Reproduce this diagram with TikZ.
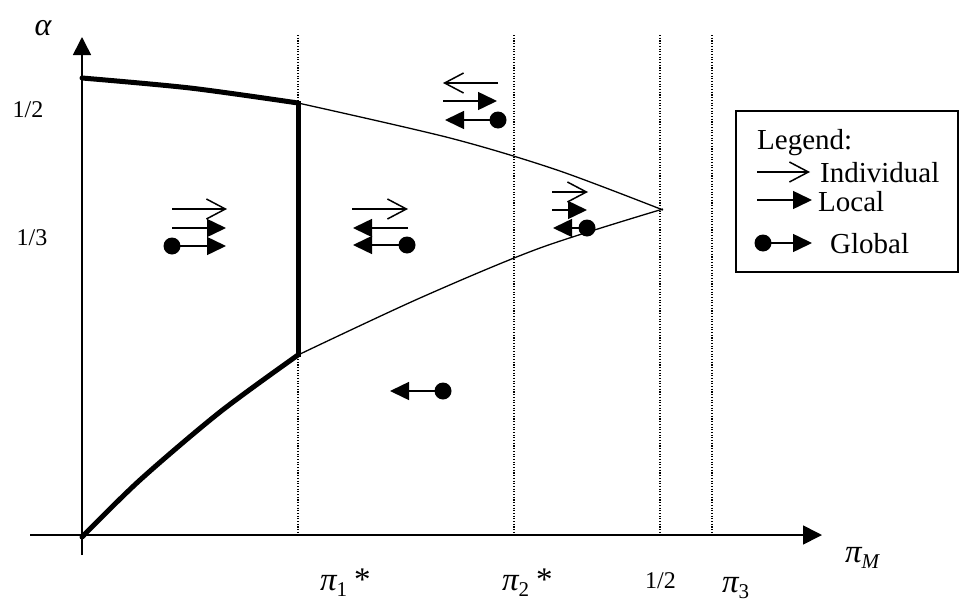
\documentclass[tikz,border=0pt]{standalone}
\usepackage{fontspec}
\setmainfont{Liberation Serif}
\usetikzlibrary{arrows.meta}
\begin{document}
\begin{tikzpicture}[x=1pt,y=-1pt,
  axis/.style={line width=1.6pt},
  boldcurve/.style={line width=5pt},
  thincurve/.style={line width=1.3pt},
  guide/.style={line width=1.1pt, dash pattern=on 1.1pt off 1.6pt},
  indiv/.style={line width=1.5pt, -{Straight Barb[length=19pt,width=20pt]}},
  loc/.style={line width=1.5pt, -{Triangle[length=19pt,width=18pt]}},
  dot/.style={fill, circle, minimum size=17pt, inner sep=0pt},
  lbl/.style={inner sep=0pt, anchor=base west},
  big/.style={font=\fontsize{33}{35}\selectfont},
  tick/.style={font=\fontsize{24}{26}\selectfont, inner sep=0pt},
  leg/.style={font=\fontsize{29}{32}\selectfont, inner sep=0pt, anchor=base west}
]
\useasboundingbox (0,0) rectangle (980,613);

% dotted guides
\foreach \gx in {298,514,660,712}
  \draw[guide] (\gx,35) -- (\gx,535);

% axes
\draw[axis, -{Triangle[length=18pt,width=18pt]}] (82,555) -- (82,37);
\draw[axis, -{Triangle[length=19pt,width=19pt]}] (30,535) -- (822,535);

% curves
\draw[boldcurve, line cap=round] plot[smooth] coordinates {(82,78) (190,88) (298,103)};
\draw[thincurve] plot[smooth] coordinates {(298,103) (450,138) (557,170) (663,210)};
\draw[boldcurve, line cap=round] plot[smooth] coordinates {(82,537) (140,480) (220,412) (298,355)};
\draw[thincurve] plot[smooth] coordinates {(298,355) (420,298) (540,248) (663,209)};
\draw[boldcurve] (298,101) -- (298,357);

% axis labels
\node[font=\fontsize{32}{34}\selectfont, inner sep=0pt] (alpha) at (43,28) {\itshape α};
\node[tick] (half) at (28,110) {1/2};
\node[tick] (third) at (32,238) {1/3};
\node[lbl, big] (pi1) at (320,590) {\itshape π\raisebox{-6pt}{\upshape\fontsize{21}{21}\selectfont 1}\hspace{7pt}\upshape *};
\node[lbl, big] (pi2) at (502,590) {\itshape π\raisebox{-6pt}{\upshape\fontsize{21}{21}\selectfont 2}\hspace{7pt}\upshape *};
\node[lbl, font=\fontsize{24}{26}\selectfont] (halfx) at (645,588) {1/2};
\node[lbl, big] (pi3) at (722,592) {\itshape π\raisebox{-6pt}{\upshape\fontsize{21}{21}\selectfont 3}};
\node[lbl, big] (piM) at (845,562) {\itshape π\raisebox{-6pt}{\fontsize{21}{21}\selectfont M}};

% region A
\draw[indiv] (172,209) -- (227,209);
\draw[loc] (172,228) -- (226,228);
\node[dot] (gA) at (172,246) {};
\draw[loc] (gA.center) -- (226,246);

% region B
\draw[indiv] (352,209) -- (408,209);
\draw[loc] (408,228) -- (353,228);
\node[dot] (gB) at (407,245) {};
\draw[loc] (gB.center) -- (353,245);

% region C
\draw[indiv] (498,83) -- (443,83);
\draw[loc] (443,101) -- (497,101);
\node[dot] (gC) at (498,120) {};
\draw[loc] (gC.center) -- (445,120);

% region D
\draw[indiv] (552,192) -- (588,192);
\draw[loc] (552,210) -- (587,210);
\node[dot] (gD) at (587,228) {};
\draw[loc] (gD.center) -- (553,228);

% region E
\node[dot] (gE) at (443,391) {};
\draw[loc] (gE.center) -- (390,391);

% legend
\draw[line width=1.5pt] (736,111) rectangle (958,272);
\node[leg] (legT) at (757,149) {Legend:};
\draw[indiv] (757,172) -- (810,172);
\node[leg] (legI) at (820,182) {Individual};
\draw[loc] (757,200) -- (812,200);
\node[leg] (legL) at (818,211) {Local};
\node[dot] (gL) at (763,243) {};
\draw[loc] (gL.center) -- (812,243);
\node[leg] (legG) at (830,253) {Global};
\end{tikzpicture}
\end{document}
